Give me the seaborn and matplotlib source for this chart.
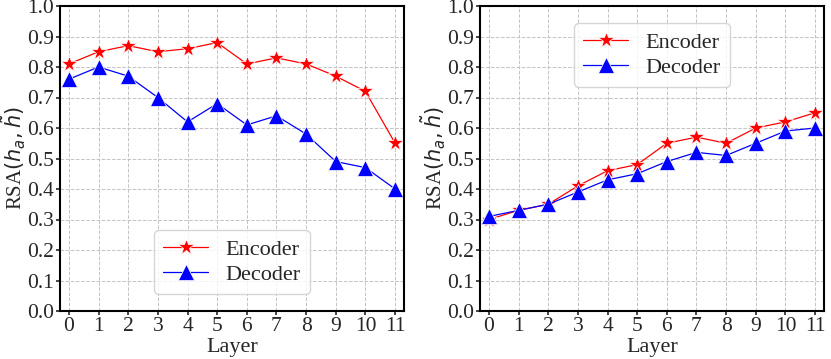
import pandas as pd
import seaborn as sns
import matplotlib
matplotlib.use("Agg")
import matplotlib.pyplot as plt

layers = list(range(12))
enc_left = [0.81, 0.85, 0.87, 0.85, 0.86, 0.88, 0.81, 0.83, 0.81, 0.77, 0.72, 0.55]
dec_left = [0.76, 0.80, 0.77, 0.70, 0.62, 0.68, 0.61, 0.64, 0.58, 0.49, 0.47, 0.40]
enc_right = [0.30, 0.33, 0.35, 0.41, 0.46, 0.48, 0.55, 0.57, 0.55, 0.60, 0.62, 0.65]
dec_right = [0.31, 0.33, 0.35, 0.39, 0.43, 0.45, 0.49, 0.52, 0.51, 0.55, 0.59, 0.60]

sns.set_style("white")
plt.rcParams['font.family'] = ['Liberation Serif', 'DejaVu Serif']
plt.rcParams['mathtext.fontset'] = 'dejavusans'

def make_df(enc, dec):
    return pd.DataFrame({
        "Layer": layers + layers,
        "RSA": enc + dec,
        "model": ["Encoder"] * 12 + ["Decoder"] * 12,
    })

fig = plt.figure(figsize=(8.31, 3.59), dpi=100)
ax1 = fig.add_axes([60/831, 1 - 311/359, 344/831, 305/359])
ax2 = fig.add_axes([480/831, 1 - 311/359, 344/831, 305/359])

panels = [(ax1, enc_left, dec_left, "lower center", (0.5, 0.02)),
          (ax2, enc_right, dec_right, "upper center", (0.5, 0.98))]
for ax, enc, dec, loc, anchor in panels:
    df = make_df(enc, dec)
    sns.lineplot(data=df, x="Layer", y="RSA", hue="model", style="model",
                 palette={"Encoder": "red", "Decoder": "blue"},
                 markers={"Encoder": "*", "Decoder": "^"}, dashes=False,
                 markersize=12, linewidth=0.9, markeredgewidth=0.5, ax=ax)
    ax.set_xlim(-0.3, 11.3)
    ax.set_ylim(0, 1.0)
    ax.set_xticks(layers)
    ax.set_yticks([i / 10 for i in range(11)])
    ax.set_yticklabels(["%.1f" % (i / 10) for i in range(11)])
    ax.tick_params(labelsize=15.5, length=3, width=1.2, pad=1.5,
                   direction='out', left=True, bottom=True)
    ax.grid(True, linestyle='--', color='#c4c4c4', linewidth=0.7)
    for s in ax.spines.values():
        s.set_color('black')
        s.set_linewidth(1.5)
    ax.set_xlabel("Layer", fontsize=16, labelpad=1)
    ax.set_ylabel(r"RSA$(h_a,\tilde{h})$", fontsize=15)
    ax.yaxis.set_label_coords(-0.092, 0.5)
    ax.legend(loc=loc, bbox_to_anchor=anchor, fontsize=16, frameon=True,
              title=None, handlelength=2.0, borderpad=0.4, labelspacing=0.2)

fig.savefig("out.png", dpi=100)
